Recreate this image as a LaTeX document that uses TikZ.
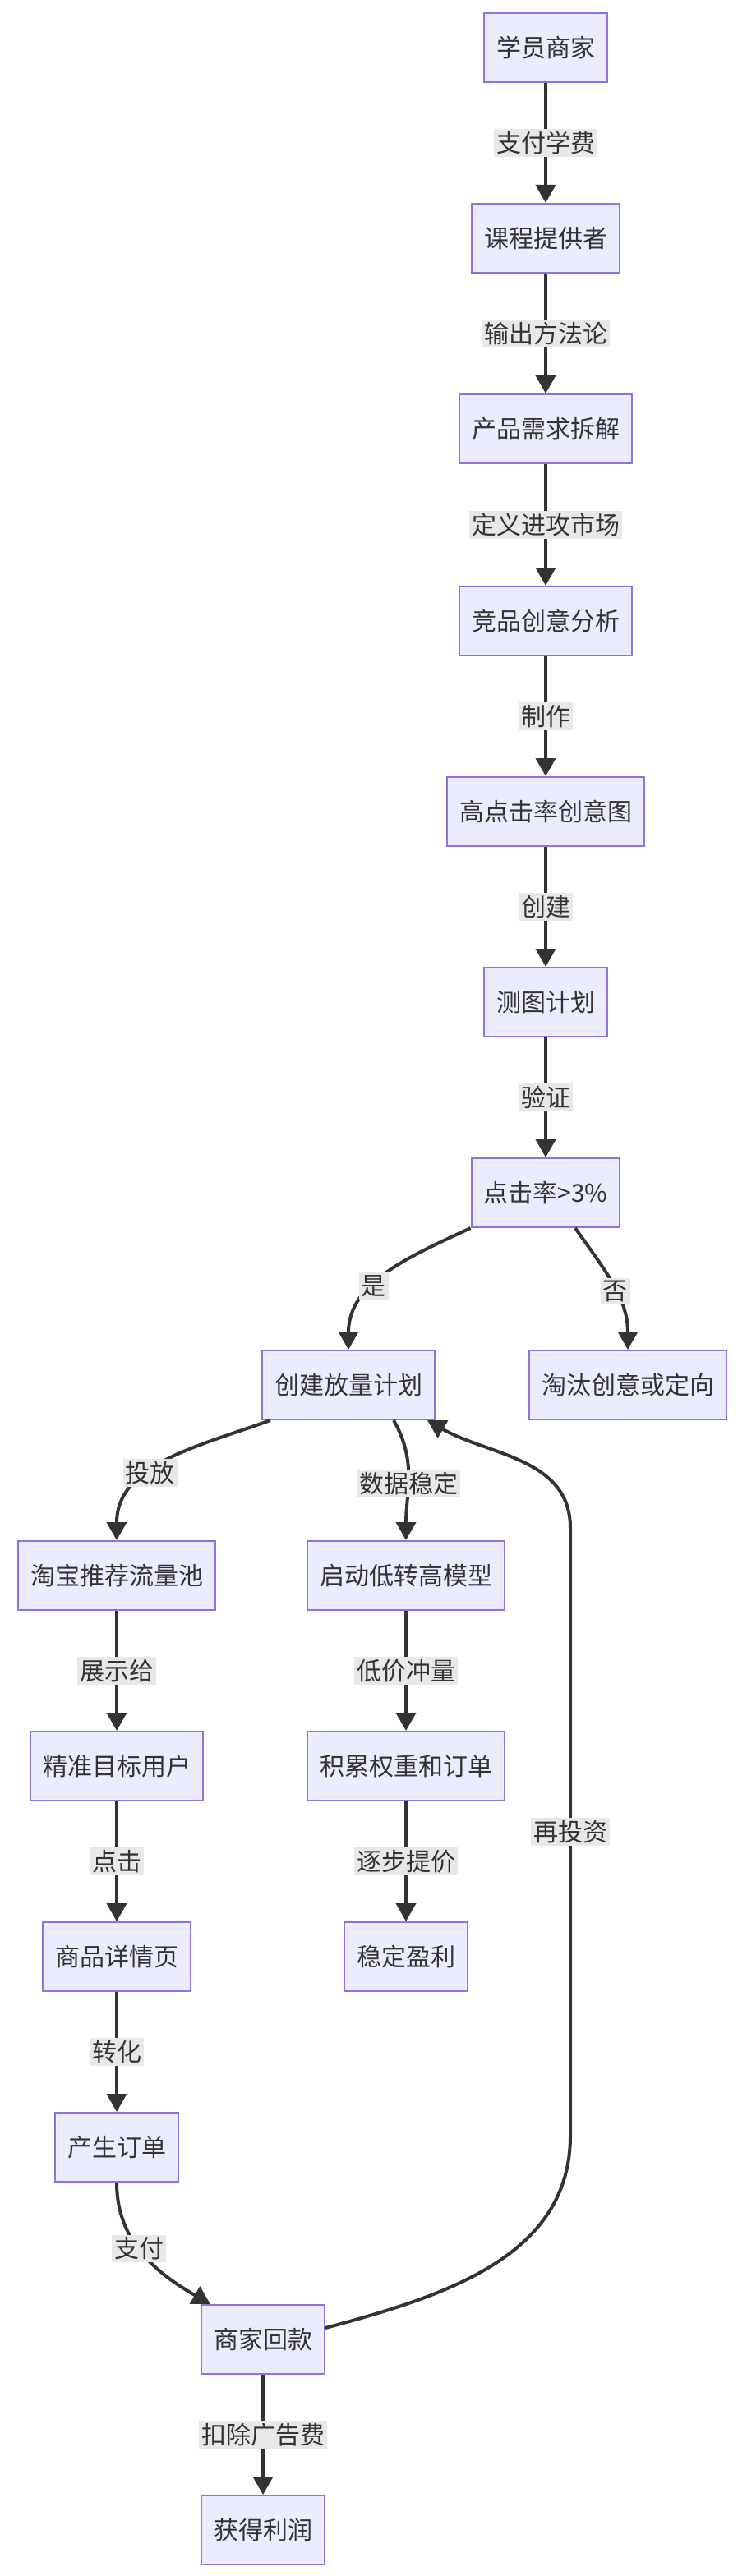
\documentclass[tikz,border=0pt]{standalone}
\usepackage{fontspec}
\setmainfont{Noto Sans CJK SC}
\usetikzlibrary{arrows.meta}
\definecolor{boxfill}{HTML}{ECECFF}
\definecolor{boxline}{HTML}{9370DB}
\definecolor{edgecol}{HTML}{333333}
\definecolor{lblfill}{HTML}{E8E8E8}
\begin{document}
\begin{tikzpicture}[x=2pt,y=-2pt]
    \tikzset{
      box/.style={draw=boxline,fill=boxfill,line width=2pt,minimum height=84pt,inner xsep=15pt,
        font=\fontsize{30}{36}\selectfont,text=edgecol},
      flow/.style={draw=edgecol,line width=4pt,-{Triangle[width=24pt,length=22pt]}},
      lbl/.style={fill=lblfill,inner sep=3pt,font=\fontsize{30}{36}\selectfont,text=edgecol}
    }
    \useasboundingbox (0,0) rectangle (454,1568);
    \node[box] (stu) at (332,29) {学员商家};
    \node[box] (prov) at (332,145) {课程提供者};
    \node[box] (need) at (332,261) {产品需求拆解};
    \node[box] (comp) at (332,378) {竞品创意分析};
    \node[box] (pic) at (332,494) {高点击率创意图};
    \node[box] (test) at (332,610) {测图计划};
    \node[box] (ctr) at (332,726) {点击率>3\%};
    \node[box] (plan) at (212,843) {创建放量计划};
    \node[box] (drop) at (382,843) {淘汰创意或定向};
    \node[box] (pool) at (71,959) {淘宝推荐流量池};
    \node[box] (model) at (247,959) {启动低转高模型};
    \node[box] (user) at (71,1075) {精准目标用户};
    \node[box] (acc) at (247,1075) {积累权重和订单};
    \node[box] (page) at (71,1191) {商品详情页};
    \node[box] (prof) at (247,1191) {稳定盈利};
    \node[box] (order) at (71,1307) {产生订单};
    \node[box] (back) at (160,1424) {商家回款};
    \node[box] (gain) at (160,1540) {获得利润};
    \coordinate (r1) at (347,1300);
    \coordinate (r2) at (347,930);
    % main chain
    \draw[flow] (stu) -- node[lbl] {支付学费} (prov);
    \draw[flow] (prov) -- node[lbl] {输出方法论} (need);
    \draw[flow] (need) -- node[lbl] {定义进攻市场} (comp);
    \draw[flow] (comp) -- node[lbl] {制作} (pic);
    \draw[flow] (pic) -- node[lbl] {创建} (test);
    \draw[flow] (test) -- node[lbl] {验证} (ctr);
    % branch
    \draw[flow] (ctr.south west) to[out=205,in=90] node[lbl,pos=0.6] {是} (plan.north);
    \draw[flow] ([xshift=36pt]ctr.south) to[out=-55,in=90] node[lbl,pos=0.55] {否} (drop.north);
    \draw[flow] ([xshift=-95pt]plan.south) to[out=200,in=90] node[lbl,pos=0.6] {投放} (pool.north);
    \draw[flow] ([xshift=55pt]plan.south) to[out=-60,in=90] node[lbl,pos=0.55] {数据稳定} (model.north);
    \draw[flow] (pool) -- node[lbl] {展示给} (user);
    \draw[flow] (user) -- node[lbl] {点击} (page);
    \draw[flow] (page) -- node[lbl] {转化} (order);
    \draw[flow] (order.south) to[out=-90,in=150] node[lbl,pos=0.45] {支付} ([xshift=-64pt]back.north);
    \draw[flow] (model) -- node[lbl] {低价冲量} (acc);
    \draw[flow] (acc) -- node[lbl] {逐步提价} (prof);
    \draw[flow] (back) -- node[lbl] {扣除广告费} (gain);
    % reinvest loop
    \draw[flow] ([yshift=14pt]back.east) to[out=15,in=-90] (r1) -- node[lbl] {再投资} (r2)
      to[out=90,in=-30] ([xshift=-10pt]plan.south east);
\end{tikzpicture}
\end{document}
